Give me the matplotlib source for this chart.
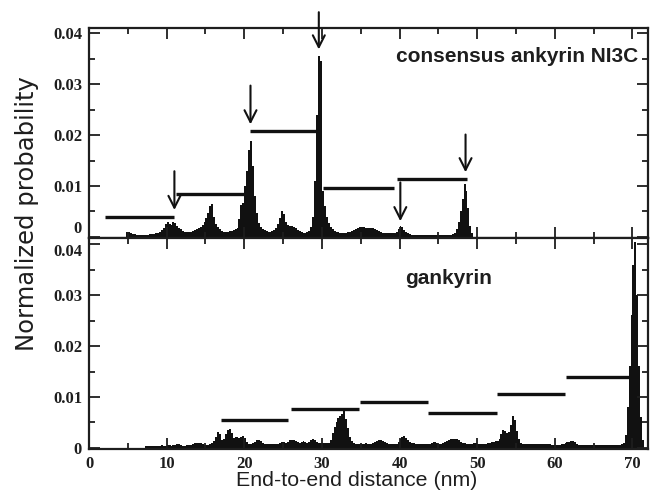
import numpy as np
import matplotlib
matplotlib.use('Agg')
import matplotlib.pyplot as plt
from matplotlib.ticker import MultipleLocator, FuncFormatter

# histogram bin width (nm)
bin_w = 0.25

# consensus ankyrin NI3C, probabilities in units of 1e-3, first bin starts at 4.75 nm
ni3c_start = 4.75
ni3c_prob = [
    1.0, 0.9, 0.8, 0.6, 0.5,                    # 4.75
    0.4, 0.3, 0.3, 0.3, 0.3, 0.4, 0.4, 0.5,     # 6
    0.6, 0.6, 0.7, 0.8, 1.0, 1.3, 1.8, 2.6,     # 8
    3.0, 2.6, 2.4, 2.9, 2.7, 2.2, 1.8, 1.5,     # 10
    1.2, 1.0, 0.9, 1.0, 1.0, 1.2, 1.4, 1.6,     # 12
    1.8, 2.0, 2.4, 3.0, 3.8, 4.8, 6.0, 6.4,     # 14
    4.0, 2.6, 2.0, 1.5, 1.2, 1.0, 1.0, 1.0,     # 16
    1.1, 1.2, 1.4, 1.5, 1.7, 3.5, 6.2, 6.6,     # 18
    10.0, 13.0, 17.0, 18.8, 14.0, 8.0, 4.8, 2.8,  # 20
    2.0, 1.5, 1.3, 1.1, 1.0, 1.0, 1.1, 1.3,     # 22
    1.8, 2.6, 3.8, 5.1, 4.6, 3.0, 2.4, 2.2,     # 24
    2.1, 2.0, 1.8, 1.4, 1.1, 0.9, 0.8, 0.8,     # 26
    0.9, 1.2, 2.0, 4.0, 11.0, 24.0, 35.6, 34.5,  # 28
    9.0, 6.0, 4.0, 2.8, 2.0, 1.6, 1.2, 1.0,     # 30
    0.9, 0.8, 0.8, 0.8, 0.8, 0.9, 1.0, 1.1,     # 32
    1.3, 1.6, 1.8, 2.0, 2.0, 1.9, 1.8, 1.7,     # 34
    1.8, 1.7, 1.7, 1.6, 1.4, 1.1, 0.9, 0.8,     # 36
    0.7, 0.7, 0.7, 0.7, 0.7, 0.8, 1.0, 1.6,     # 38
    2.2, 2.0, 1.4, 1.0, 0.7, 0.5, 0.4, 0.3,     # 40
    0.3, 0.3, 0.3, 0.3, 0.3, 0.3, 0.3, 0.3,     # 42
    0.3, 0.3, 0.3, 0.3, 0.3, 0.3, 0.3, 0.3,     # 44
    0.3, 0.3, 0.3, 0.5, 0.8, 1.5, 3.0, 5.0,     # 46
    7.4, 10.3, 9.0, 5.6, 2.2, 0.8,              # 48
]

# gankyrin, probabilities in units of 1e-3, first bin starts at 7.25 nm
gank_start = 7.25
gank_prob = [
    0.3, 0.3, 0.3,                              # 7.25
    0.4, 0.4, 0.3, 0.4, 0.4, 0.5, 0.4, 0.4,     # 8
    0.5, 0.5, 0.4, 0.5, 0.6, 0.8, 0.7, 0.5,     # 10
    0.4, 0.4, 0.5, 0.5, 0.6, 0.8, 0.9, 1.0,     # 12
    1.0, 0.9, 0.7, 0.5, 0.5, 0.6, 0.8, 1.0,     # 14
    1.3, 2.2, 3.1, 2.8, 1.6, 1.8, 2.8, 3.6,     # 16
    3.8, 3.0, 2.0, 2.2, 2.2, 2.0, 2.2, 2.3,     # 18
    2.0, 1.2, 0.8, 0.8, 0.9, 1.2, 1.5, 1.6,     # 20
    1.4, 0.9, 0.8, 0.7, 0.7, 0.7, 0.8, 0.7,     # 22
    0.7, 0.8, 0.9, 1.2, 1.1, 1.0, 1.2, 1.5,     # 24
    1.6, 1.5, 1.3, 1.2, 1.0, 1.1, 1.3, 1.2,     # 26
    1.0, 1.2, 1.5, 1.8, 1.6, 1.2, 1.0, 0.9,     # 28
    0.9, 0.9, 1.0, 1.0, 1.5, 3.0, 4.2, 5.0,     # 30
    5.8, 6.3, 6.6, 7.2, 5.6, 4.0, 2.2, 1.4,     # 32
    1.0, 0.8, 0.7, 0.7, 0.7, 0.8, 0.9, 0.8,     # 34
    0.7, 0.8, 1.0, 1.2, 1.4, 1.5, 1.5, 1.4,     # 36
    1.2, 1.0, 0.8, 0.7, 0.7, 0.7, 0.8, 1.2,     # 38
    1.8, 2.2, 2.3, 2.0, 1.5, 1.2, 1.0, 0.9,     # 40
    0.8, 0.8, 0.8, 0.8, 0.8, 0.8, 0.7, 0.8,     # 42
    0.9, 1.1, 1.2, 1.0, 0.8, 0.8, 0.9, 1.1,     # 44
    1.3, 1.5, 1.7, 1.8, 1.8, 1.7, 1.5, 1.2,     # 46
    1.0, 0.9, 0.8, 0.8, 0.8, 0.8, 0.9, 0.9,     # 48
    0.8, 0.8, 0.7, 0.8, 0.8, 0.9, 1.0, 1.1,     # 50
    1.2, 1.3, 1.3, 1.8, 2.8, 3.6, 3.4, 3.0,     # 52
    3.2, 4.5, 6.2, 5.5, 3.3, 1.8, 1.0, 0.8,     # 54
    0.7, 0.7, 0.7, 0.7, 0.7, 0.7, 0.7, 0.7,     # 56
    0.7, 0.7, 0.7, 0.7, 0.7, 0.7, 0.6, 0.6,     # 58
    0.6, 0.6, 0.6, 0.7, 0.8, 0.9, 1.1, 1.2,     # 60
    1.3, 1.3, 1.1, 0.8, 0.6, 0.5, 0.5, 0.5,     # 62
    0.5, 0.5, 0.5, 0.5, 0.5, 0.5, 0.5, 0.5,     # 64
    0.5, 0.5, 0.5, 0.5, 0.5, 0.5, 0.5, 0.5,     # 66
    0.5, 0.6, 0.7, 1.0, 2.5, 8.0, 16.0, 26.0,   # 68
    36.0, 40.5, 30.0, 16.0, 6.0, 1.5,           # 70
]

# horizontal bars: (start nm, end nm, height)
ni3c_segs_x0 = [2.0, 11.2, 20.8, 30.15, 39.7]
ni3c_segs_x1 = [11.0, 20.3, 29.7, 39.25, 48.7]
ni3c_segs_y = [0.0040, 0.0084, 0.0207, 0.0097, 0.0113]

gank_segs_x0 = [17.0, 26.0, 34.9, 43.7, 52.5, 61.4]
gank_segs_x1 = [25.65, 34.8, 43.7, 52.5, 61.25, 69.8]
gank_segs_y = [0.0055, 0.0076, 0.0090, 0.0069, 0.0106, 0.0139]

# arrows in NI3C panel: x, tail height, tip height
arrow_x = [11.0, 20.8, 29.6, 40.1, 48.5]
arrow_top = [0.0129, 0.0297, 0.0441, 0.0107, 0.0201]
arrow_tip = [0.0053, 0.0221, 0.0368, 0.0031, 0.0127]

title_font = ['Liberation Sans', 'DejaVu Sans']
ink = '#1e1e1e'

fig = plt.figure(figsize=(6.51, 4.91), dpi=100)
W, H = 651.0, 491.0
ax1 = fig.add_axes([89 / W, 1 - 238 / H, (648 - 89) / W, (238 - 28) / H])
ax2 = fig.add_axes([89 / W, 1 - 449 / H, (648 - 89) / W, (449 - 238) / H])


def ylab(v, pos):
    if abs(v) < 1e-9:
        return '0'
    return '%.2f' % v


for ax in (ax1, ax2):
    ax.set_xlim(0, 72)
    ax.xaxis.set_major_locator(MultipleLocator(10))
    ax.xaxis.set_minor_locator(MultipleLocator(5))
    ax.yaxis.set_major_locator(MultipleLocator(0.01))
    ax.yaxis.set_minor_locator(MultipleLocator(0.005))
    ax.yaxis.set_major_formatter(FuncFormatter(ylab))
    ax.tick_params(which='both', direction='in', top=True, right=True, width=1.3, colors=ink)
    ax.tick_params(which='major', length=8, pad=5)
    ax.tick_params(which='minor', length=4.3)
    for s in ax.spines.values():
        s.set_linewidth(1.6)
        s.set_color(ink)

ax1.set_ylim(-0.0002, 0.041)
ax2.set_ylim(-0.0002, 0.0412)
ax1.tick_params(labelbottom=False)

x1 = ni3c_start + bin_w * np.arange(len(ni3c_prob))
x2 = gank_start + bin_w * np.arange(len(gank_prob))
ax1.bar(x1, np.array(ni3c_prob) * 1e-3, width=bin_w, align='edge', color='#111111', linewidth=0)
ax2.bar(x2, np.array(gank_prob) * 1e-3, width=bin_w, align='edge', color='#111111', linewidth=0)

ax1.hlines(ni3c_segs_y, ni3c_segs_x0, ni3c_segs_x1, color='#111111', lw=2.4)
ax2.hlines(gank_segs_y, gank_segs_x0, gank_segs_x1, color='#111111', lw=2.4)

for xa, yt, yh in zip(arrow_x, arrow_top, arrow_tip):
    ax1.annotate('', xy=(xa, yh), xytext=(xa, yt), annotation_clip=False,
                 arrowprops=dict(arrowstyle='->,head_length=0.85,head_width=0.43',
                                 lw=1.5, color='#111111', shrinkA=0, shrinkB=0))

ax1.text(0.982, 0.862, 'consensus ankyrin NI3C', transform=ax1.transAxes,
         ha='right', va='center', fontsize=15, fontweight='bold', family=title_font, color=ink)
ax2.text(0.644, 0.806, 'gankyrin', transform=ax2.transAxes,
         ha='center', va='center', fontsize=15, fontweight='bold', family=title_font, color=ink)

fig.text(27 / W, 1 - 214 / H, 'Normalized probability', rotation=90, ha='center', va='center',
         fontsize=17.5, family=['DejaVu Sans'], color=ink)
fig.text(357 / W, 1 - 480 / H, 'End-to-end distance (nm)', ha='center', va='center',
         fontsize=15.4, family=['Liberation Sans', 'DejaVu Sans'], color=ink)

fig.canvas.draw()
for ax in (ax1, ax2):
    for lab in ax.get_xticklabels() + ax.get_yticklabels():
        lab.set_fontfamily('Liberation Serif')
        lab.set_fontweight('bold')
        lab.set_fontsize(12)
# keep the "0" of the top panel and the "0.04" of the lower panel apart
ax1.get_yticklabels()[1].set_verticalalignment('bottom')
ax2.get_yticklabels()[-2].set_verticalalignment('top')

fig.savefig('out.png', dpi=100)
